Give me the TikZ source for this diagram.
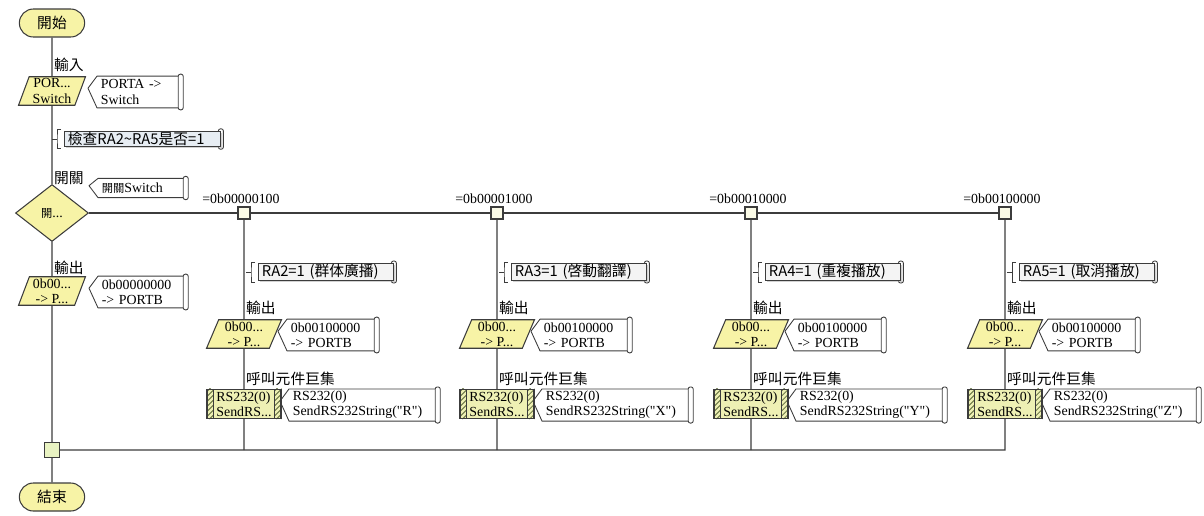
\documentclass[tikz,border=0pt]{standalone}
\usepackage{fontspec}
\setmainfont{Liberation Serif}
\newfontfamily\cjk{Noto Sans CJK TC}
\usetikzlibrary{shapes.geometric,shapes.misc,calc,shadows,positioning}
\definecolor{fcline}{HTML}{3C3C3C}
\definecolor{fcyel}{HTML}{F7F3A6}
\definecolor{fcjoin}{HTML}{E9F3C2}
\definecolor{fcsq}{HTML}{FAFAE6}
\definecolor{fcmac}{HTML}{EEF0B4}
\definecolor{fchatch}{HTML}{5E6B3A}
\definecolor{fcnote}{HTML}{E7EDF3}
\definecolor{fcgrey}{HTML}{F4F4F4}
\newcommand\fcsize{\fontsize{7.9}{8.7}\selectfont}
\newcommand\cjksize{\cjk\fontsize{8.4}{10}\selectfont}
\newcommand\cjksmall{\cjk\fontsize{6.4}{8}\selectfont}

\begin{document}
\begin{tikzpicture}[x=0.02cm, y=-0.02cm,
  flow/.style={draw=fcline, line width=0.6pt},
  term/.style={rounded rectangle, draw=fcline, line width=0.6pt, fill=fcyel, minimum width=1.54cm, minimum height=0.56cm, font=\cjksize},
  io/.style={trapezium, trapezium left angle=70, trapezium right angle=110, trapezium stretches=true, draw=fcline, line width=0.6pt, fill=fcyel, minimum width=1.5cm, minimum height=0.57cm, inner sep=0pt, align=center, font=\fcsize},
  dec/.style={diamond, draw=fcline, line width=0.6pt, fill=fcyel, minimum width=1.46cm, minimum height=1.14cm, inner sep=0pt, font=\fcsize},
  hatch/.style={draw=fchatch, line width=0.45pt},
  % the fill goes into the extra path, or the node box would cover the hatching
  macbox/.style={rectangle, draw=fcline, line width=0.6pt, minimum width=1.48cm, minimum height=0.58cm, inner sep=0pt, align=left, font=\fcsize,
    append after command={\pgfextra{
      \fill[fcmac] (\tikzlastnode.north west) rectangle (\tikzlastnode.south east);
      \begin{scope}
        \clip (\tikzlastnode.north west) rectangle ($(\tikzlastnode.south west)+(7,0)$);
        \foreach \k in {0,5,...,40} \draw[hatch] ($(\tikzlastnode.south west)+(\k-32,0)$) -- ++(32,-32);
      \end{scope}
      \begin{scope}
        \clip (\tikzlastnode.north east) rectangle ($(\tikzlastnode.south east)+(-7,0)$);
        \foreach \k in {0,5,...,40} \draw[hatch] ($(\tikzlastnode.south east)+(\k-40,0)$) -- ++(32,-32);
      \end{scope}
      \draw[fcline, line width=0.5pt] ($(\tikzlastnode.north west)+(7,0)$) -- ($(\tikzlastnode.south west)+(7,0)$);
      \draw[fcline, line width=0.5pt] ($(\tikzlastnode.north east)+(-7,0)$) -- ($(\tikzlastnode.south east)+(-7,0)$);
    }}},
  joint/.style={rectangle, draw=fcline, line width=0.6pt, fill=fcsq, minimum size=0.24cm, inner sep=0pt},
  cmt/.style={rectangle, inner xsep=2pt, inner ysep=1pt, anchor=west, align=left, font=\fcsize, text width=#1,
    append after command={\pgfextra{
      \draw[fcline, line width=0.5pt, line join=round] (\tikzlastnode.north east) -- (\tikzlastnode.north west) -- ($(\tikzlastnode.north west)!0.38!(\tikzlastnode.south west)+(-9,0)$) -- (\tikzlastnode.south west) -- (\tikzlastnode.south east);
      \draw[fcline, line width=0.5pt, fill=white, rounded corners=1.2pt] ($(\tikzlastnode.north east)+(-2.5,-2)$) rectangle ($(\tikzlastnode.south east)+(2.5,2)$);
    }}},
  bcmt/.style={rectangle, draw=fcline, line width=0.5pt, fill=fcgrey, drop shadow={shadow xshift=0.8pt, shadow yshift=-0.8pt, fill=black!35}, inner xsep=2pt, inner ysep=0.5pt, anchor=west, align=left, font=\cjksize, text width=#1,
    append after command={\pgfextra{
      \draw[fcline, line width=0.5pt, fill=white, rounded corners=1.2pt] ($(\tikzlastnode.north east)+(-2.5,-2)$) rectangle ($(\tikzlastnode.south east)+(2.5,2)$);
      \draw[fcline, line width=0.5pt] ($(\tikzlastnode.north west)+(-3,-1)$) -| ($(\tikzlastnode.west)+(-7,0)$) |- ($(\tikzlastnode.south west)+(-3,1)$);
      \draw[fcline, line width=0.5pt] ($(\tikzlastnode.west)+(-7,0)$) -- ++(-5,0);
    }}},
  lbl/.style={anchor=west, inner sep=0.5pt, font=\cjksize},
  val/.style={anchor=south, inner sep=1pt, font=\fcsize}]
\useasboundingbox (0,0) rectangle (1204,515);

% main column
\node[term] (start) at (52,23) {開始};
\node[lbl] at (53,65) {輸入};
\node[io, minimum width=1.34cm] (inp) at (52,91) {POR...\\Switch};
\node[cmt=1.52cm, minimum height=0.62cm] (cinp) at (97,92) {PORTA ->\\Switch};
\node[bcmt=2.98cm, fill=fcnote] (cchk) at (64,139) {檢查RA2\textasciitilde RA5是否=1};
\node[lbl] at (53,178) {開關};
\node[cmt=1.6cm, minimum height=0.37cm] (cdec) at (98,188) {{\cjksmall 開關}Switch};
\node[dec] (dec) at (52,213) {{\cjksmall 開}...};
\node[lbl] at (53,268) {輸出};
\node[io, minimum width=1.34cm] (out0) at (52,291) {0b00...\\-> P...};
\node[cmt=1.6cm, minimum height=0.62cm] (cout0) at (98,292) {0b00000000\\-> PORTB};
\node[joint, minimum size=0.3cm, fill=fcjoin] (join) at (52,450) {};
\node[term] (end) at (52,497) {結束};

% branch RA2
\node[joint] (sq1) at (244,213) {};
\node[val] at ($(sq1.north)+(-3,-1)$) {=0b00000100};
\node[bcmt=2.56cm] (cra1) at (258,272) {RA2=1 (群体廣播)};
\node[lbl] at (245,308) {輸出};
\node[io] (ob1) at (244,334) {0b00...\\-> P...};
\node[cmt=1.64cm, minimum height=0.62cm] (cob1) at (287,335) {0b00100000\\-> PORTB};
\node[lbl] at (245,379) {呼叫元件巨集};
\node[macbox] (mac1) at (244,404) {RS232(0)\\SendRS...};
\node[cmt=2.82cm, minimum height=0.6cm] (cmac1) at (289,405) {RS232(0)\\SendRS232String(\textquotedbl R\textquotedbl)};

% branch RA3
\node[joint] (sq2) at (497,213) {};
\node[val] at ($(sq2.north)+(-3,-1)$) {=0b00001000};
\node[bcmt=2.56cm] (cra2) at (511,272) {RA3=1 (啓動翻譯)};
\node[lbl] at (498,308) {輸出};
\node[io] (ob2) at (497,334) {0b00...\\-> P...};
\node[cmt=1.64cm, minimum height=0.62cm] (cob2) at (540,335) {0b00100000\\-> PORTB};
\node[lbl] at (498,379) {呼叫元件巨集};
\node[macbox] (mac2) at (497,404) {RS232(0)\\SendRS...};
\node[cmt=2.82cm, minimum height=0.6cm] (cmac2) at (542,405) {RS232(0)\\SendRS232String(\textquotedbl X\textquotedbl)};

% branch RA4
\node[joint] (sq3) at (751,213) {};
\node[val] at ($(sq3.north)+(-3,-1)$) {=0b00010000};
\node[bcmt=2.56cm] (cra3) at (765,272) {RA4=1 (重複播放)};
\node[lbl] at (752,308) {輸出};
\node[io] (ob3) at (751,334) {0b00...\\-> P...};
\node[cmt=1.64cm, minimum height=0.62cm] (cob3) at (794,335) {0b00100000\\-> PORTB};
\node[lbl] at (752,379) {呼叫元件巨集};
\node[macbox] (mac3) at (751,404) {RS232(0)\\SendRS...};
\node[cmt=2.82cm, minimum height=0.6cm] (cmac3) at (796,405) {RS232(0)\\SendRS232String(\textquotedbl Y\textquotedbl)};

% branch RA5
\node[joint] (sq4) at (1005,213) {};
\node[val] at ($(sq4.north)+(-3,-1)$) {=0b00100000};
\node[bcmt=2.56cm] (cra4) at (1019,272) {RA5=1 (取消播放)};
\node[lbl] at (1006,308) {輸出};
\node[io] (ob4) at (1005,334) {0b00...\\-> P...};
\node[cmt=1.64cm, minimum height=0.62cm] (cob4) at (1048,335) {0b00100000\\-> PORTB};
\node[lbl] at (1006,379) {呼叫元件巨集};
\node[macbox] (mac4) at (1005,404) {RS232(0)\\SendRS...};
\node[cmt=2.82cm, minimum height=0.6cm] (cmac4) at (1050,405) {RS232(0)\\SendRS232String(\textquotedbl Z\textquotedbl)};

% connectors
\draw[flow] (start) -- (inp) -- (dec) -- (out0) -- (join) -- (end);
\draw[flow] (dec) -- (sq1) -- (sq2) -- (sq3) -- (sq4);
\draw[flow] (sq1) -- (ob1) -- (mac1) -- (mac1 |- join);
\draw[flow] (sq2) -- (ob2) -- (mac2) -- (mac2 |- join);
\draw[flow] (sq3) -- (ob3) -- (mac3) -- (mac3 |- join);
\draw[flow] (sq4) -- (ob4) -- (mac4) |- (join);
\end{tikzpicture}
\end{document}
